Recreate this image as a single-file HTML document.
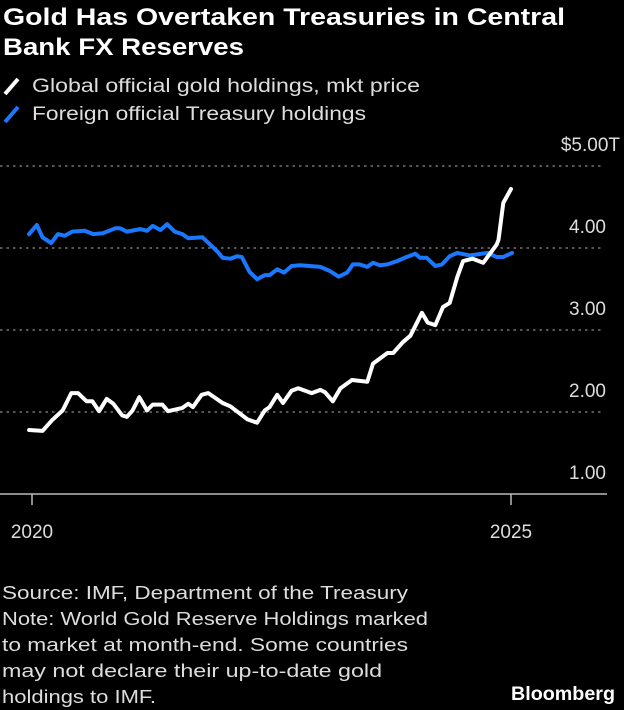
<!DOCTYPE html>
<html><head><meta charset="utf-8"><style>
html,body{margin:0;padding:0;background:#000;}
svg{display:block;font-family:"Liberation Sans",sans-serif;}
</style></head><body>
<svg id="chart" width="624" height="710" viewBox="0 0 624 710">
<rect width="624" height="710" fill="#000"/>
<text x="3" y="25" font-size="24" font-weight="bold" fill="#fff" textLength="562" lengthAdjust="spacingAndGlyphs">Gold Has Overtaken Treasuries in Central</text>
<text x="3" y="55" font-size="24" font-weight="bold" fill="#fff" textLength="241" lengthAdjust="spacingAndGlyphs">Bank FX Reserves</text>
<line x1="5" y1="94" x2="18" y2="79" stroke="#fff" stroke-width="4"/>
<text x="32" y="92" font-size="19" fill="#ddd" textLength="388" lengthAdjust="spacingAndGlyphs">Global official gold holdings, mkt price</text>
<line x1="5" y1="122" x2="18" y2="107" stroke="#1a78ff" stroke-width="4"/>
<text x="32" y="120" font-size="19" fill="#ddd" textLength="334" lengthAdjust="spacingAndGlyphs">Foreign official Treasury holdings</text>
<g id="grid"></g>
<g id="axes"></g>
<g id="series"></g>
<text x="2" y="599" font-size="18" fill="#ddd" textLength="406" lengthAdjust="spacingAndGlyphs">Source: IMF, Department of the Treasury</text>
<text x="2" y="625" font-size="18" fill="#ddd" textLength="426" lengthAdjust="spacingAndGlyphs">Note: World Gold Reserve Holdings marked</text>
<text x="2" y="651" font-size="18" fill="#ddd" textLength="406" lengthAdjust="spacingAndGlyphs">to market at month-end. Some countries</text>
<text x="2" y="677" font-size="18" fill="#ddd" textLength="380" lengthAdjust="spacingAndGlyphs">may not declare their up-to-date gold</text>
<text x="2" y="703" font-size="18" fill="#ddd" textLength="154" lengthAdjust="spacingAndGlyphs">holdings to IMF.</text>
<text x="511" y="700" font-size="19" font-weight="bold" fill="#fff" textLength="104" lengthAdjust="spacingAndGlyphs">Bloomberg</text>
</svg>
<script>
const yTicks = [1, 2, 3, 4, 5];
const yTickLabels = ["1.00", "2.00", "3.00", "4.00", "$5.00T"];
const xTicks = [2020, 2025];
const xTickLabels = ["2020", "2025"];
const goldDates = [2019.97,2020.11,2020.21,2020.32,2020.41,2020.48,2020.57,2020.63,2020.70,2020.78,2020.85,2020.94,2020.99,2021.05,2021.12,2021.20,2021.26,2021.36,2021.42,2021.57,2021.63,2021.68,2021.77,2021.84,2021.99,2022.07,2022.25,2022.35,2022.43,2022.48,2022.56,2022.62,2022.71,2022.78,2022.92,2023.01,2023.06,2023.14,2023.22,2023.34,2023.50,2023.56,2023.71,2023.77,2023.87,2023.95,2024.07,2024.13,2024.21,2024.29,2024.36,2024.44,2024.50,2024.60,2024.71,2024.85,2024.87,2024.92,2025.00];
const goldValues = [1.78,1.77,1.90,2.02,2.23,2.23,2.13,2.13,2.01,2.16,2.10,1.96,1.94,2.02,2.18,2.02,2.09,2.09,2.01,2.05,2.10,2.06,2.21,2.23,2.11,2.07,1.91,1.87,2.02,2.06,2.21,2.11,2.26,2.29,2.23,2.27,2.24,2.13,2.29,2.39,2.37,2.59,2.72,2.72,2.85,2.93,3.21,3.09,3.06,3.28,3.33,3.65,3.84,3.87,3.82,4.04,4.10,4.55,4.72];
const tsyDates = [2019.97,2020.05,2020.11,2020.20,2020.27,2020.34,2020.42,2020.55,2020.64,2020.74,2020.87,2020.92,2020.99,2021.13,2021.20,2021.26,2021.34,2021.41,2021.49,2021.57,2021.63,2021.78,2021.88,2021.94,2021.99,2022.07,2022.14,2022.19,2022.27,2022.35,2022.43,2022.48,2022.56,2022.63,2022.71,2022.80,2023.01,2023.11,2023.20,2023.29,2023.35,2023.42,2023.50,2023.56,2023.63,2023.71,2023.81,2023.89,2024.00,2024.05,2024.12,2024.21,2024.28,2024.36,2024.44,2024.57,2024.76,2024.85,2024.92,2025.01];
const tsyValues = [4.17,4.28,4.13,4.06,4.17,4.15,4.20,4.21,4.17,4.18,4.24,4.24,4.20,4.23,4.21,4.27,4.22,4.29,4.20,4.17,4.12,4.13,4.02,3.95,3.88,3.87,3.90,3.89,3.71,3.62,3.67,3.67,3.74,3.70,3.78,3.79,3.77,3.72,3.65,3.70,3.80,3.80,3.77,3.82,3.79,3.80,3.84,3.88,3.93,3.88,3.88,3.78,3.80,3.90,3.94,3.91,3.94,3.89,3.89,3.94];

const NS = "http://www.w3.org/2000/svg";
function xScale(t){ return 32 + (t - 2020) * 95.8; }
function yScale(v){ return 494 - (v - 1) * 82; }
function mk(tag, attrs, parent){
  const el = document.createElementNS(NS, tag);
  for (const k in attrs) el.setAttribute(k, attrs[k]);
  parent.appendChild(el);
  return el;
}
const grid = document.getElementById('grid');
const axes = document.getElementById('axes');
const series = document.getElementById('series');

yTicks.forEach((v, i) => {
  if (v > 1) {
    const g = mk('line', {x1:0, x2:603, y1:yScale(v), y2:yScale(v), stroke:'#8a8a8a', 'stroke-width':1.3, 'stroke-dasharray':'2.5,4'}, grid);
    
    
  }
  const lbl = mk('text', {x:606, y:yScale(v) - 15, 'text-anchor':'end', 'font-size':19, fill:'#ddd'}, axes);
  if (i === yTicks.length - 1) { lbl.setAttribute('x', 620); }
  lbl.textContent = yTickLabels[i];
  
  
});
const axisLine = mk('line', {x1:0, x2:607, y1:494, y2:494, stroke:'#bbb', 'stroke-width':1.5}, axes);


xTicks.forEach((t, i) => {
  const tk = mk('line', {x1:xScale(t), x2:xScale(t), y1:494, y2:505, stroke:'#bbb', 'stroke-width':1.5}, axes);
  
  
  const lbl = mk('text', {x:xScale(t), y:538, 'text-anchor':'middle', 'font-size':19, fill:'#ddd'}, axes);
  lbl.textContent = xTickLabels[i];
  
  
});
function pathFor(dates, vals){
  return dates.map((d, i) => (i ? 'L' : 'M') + xScale(d).toFixed(1) + ',' + yScale(vals[i]).toFixed(1)).join('');
}
const tsy = mk('path', {d:pathFor(tsyDates, tsyValues), fill:'none', stroke:'#1a78ff', 'stroke-width':4, 'stroke-linejoin':'round', 'stroke-linecap':'round'}, series);


const gold = mk('path', {d:pathFor(goldDates, goldValues), fill:'none', stroke:'#fff', 'stroke-width':4, 'stroke-linejoin':'round', 'stroke-linecap':'round'}, series);


</script>
</body></html>
